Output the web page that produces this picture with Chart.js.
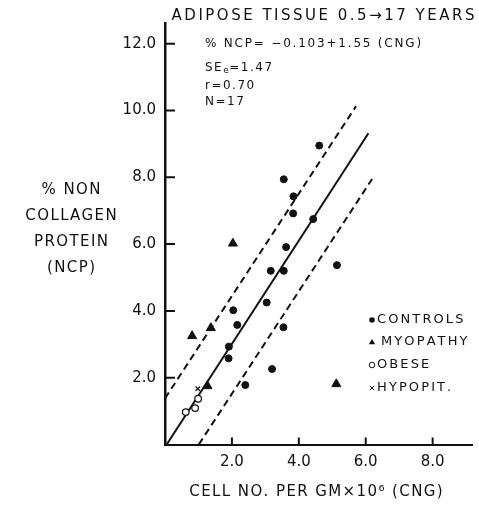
<!DOCTYPE html>
<html>
<head>
<meta charset="utf-8">
<script src="https://cdn.jsdelivr.net/npm/chart.js@4/dist/chart.umd.min.js"></script>
<style>
    html, body { margin: 0; padding: 0; background: #fff; }
</style>
</head>
<body>
<canvas id="chart" width="479" height="506"></canvas>
<script>
'use strict';

// values (x = CNG, y = % NCP)
const controlsX = [4.61, 3.55, 3.84, 3.83, 4.43, 3.62, 3.16, 3.55, 5.14, 2.04, 3.04, 2.16, 3.54, 1.91, 1.90, 3.20, 2.40];
const controlsY = [8.95, 7.94, 7.43, 6.92, 6.75, 5.91, 5.20, 5.20, 5.37, 4.02, 4.25, 3.58, 3.51, 2.93, 2.58, 2.26, 1.78];
const myopathyX = [2.03, 0.81, 1.37, 1.27, 5.12];
const myopathyY = [6.02, 3.25, 3.49, 1.75, 1.81];
const obeseX = [0.62, 0.90, 0.99];
const obeseY = [0.97, 1.09, 1.37];
const hypopitX = [0.98];
const hypopitY = [1.67];

const fitX = [0.05, 6.08];
const fitY = [0.0, 9.32];
const upperX = [0.0, 5.71];
const upperY = [1.38, 10.13];
const lowerX = [1.01, 6.19];
const lowerY = [0.0, 7.95];

const xTickValues = [2, 4, 6, 8];
const xTickLabels = ['2.0', '4.0', '6.0', '8.0'];
const yTickValues = [2, 4, 6, 8, 10, 12];
const yTickLabels = ['2.0', '4.0', '6.0', '8.0', '10.0', '12.0'];

const title = 'ADIPOSE TISSUE 0.5\u219217 YEARS';
const xTitle = 'CELL NO. PER GM\u00d710\u2076 (CNG)';
const yTitle = ['% NON', 'COLLAGEN', 'PROTEIN', '(NCP)'];
const legendLabels = ['CONTROLS', 'MYOPATHY', 'OBESE', 'HYPOPIT.'];

const FONT = '"DejaVu Sans", sans-serif';
const INK = '#111';

const pts = (xs, ys) => xs.map((x, i) => ({x, y: ys[i]}));

// canvas letterSpacing is not everywhere yet, so space the glyphs by hand
function spacedText(ctx, text, x, y, spacing, align) {
    const chars = [...text];
    const widths = chars.map(c => ctx.measureText(c).width);
    const total = widths.reduce((a, b) => a + b, 0) + spacing * (chars.length - 1);
    let cx = align === 'center' ? x - total / 2 : (align === 'right' ? x - total : x);
    ctx.textAlign = 'left';
    chars.forEach((c, i) => {
        ctx.fillText(c, cx, y);
        cx += widths[i] + spacing;
    });
    return cx;
}

function marker(ctx, kind, x, y, r) {
    ctx.beginPath();
    if (kind === 'dot') {
        ctx.arc(x, y, r, 0, Math.PI * 2);
        ctx.fill();
    } else if (kind === 'tri') {
        ctx.moveTo(x, y - r * 1.1);
        ctx.lineTo(x + r * 1.15, y + r * 0.8);
        ctx.lineTo(x - r * 1.15, y + r * 0.8);
        ctx.closePath();
        ctx.fill();
    } else if (kind === 'ring') {
        ctx.arc(x, y, r, 0, Math.PI * 2);
        ctx.stroke();
    } else {
        ctx.moveTo(x - r, y - r);
        ctx.lineTo(x + r, y + r);
        ctx.moveTo(x + r, y - r);
        ctx.lineTo(x - r, y + r);
        ctx.stroke();
    }
}

const decorations = {
    id: 'decorations',
    afterDraw(chart) {
        const {ctx, chartArea: area, scales} = chart;
        ctx.save();
        ctx.strokeStyle = INK;
        ctx.fillStyle = INK;

        // inward tick marks
        ctx.lineWidth = 2;
        ctx.beginPath();
        for (const t of scales.y.ticks) {
            const py = scales.y.getPixelForValue(t.value);
            ctx.moveTo(area.left, py);
            ctx.lineTo(area.left + 10, py);
        }
        for (const t of scales.x.ticks) {
            const px = scales.x.getPixelForValue(t.value);
            ctx.moveTo(px, area.bottom);
            ctx.lineTo(px, area.bottom - 7);
        }
        ctx.stroke();

        ctx.textBaseline = 'middle';
        ctx.font = `15px ${FONT}`;
        spacedText(ctx, title, 323, 16, 2.5, 'center');
        spacedText(ctx, xTitle, 316, 492, 1.4, 'center');
        yTitle.forEach((line, i) => {
            spacedText(ctx, line, 71, 190 + i * 26, 1.4, 'center');
        });

        // regression annotation
        ctx.font = `12px ${FONT}`;
        spacedText(ctx, '% NCP= \u22120.103+1.55 (CNG)', 205, 44, 1.8, 'left');
        let ex = spacedText(ctx, 'SE', 205, 68, 1.5, 'left');
        ctx.font = `9px ${FONT}`;
        ex = spacedText(ctx, 'e', ex, 71, 0, 'left');
        ctx.font = `12px ${FONT}`;
        spacedText(ctx, '=1.47', ex + 0.5, 68, 1.5, 'left');
        spacedText(ctx, 'r=0.70', 205, 86, 1.5, 'left');
        spacedText(ctx, 'N=17', 205, 102, 1.5, 'left');

        // legend
        const kinds = ['dot', 'tri', 'ring', 'cross'];
        const rows = [320, 342, 365, 388];
        ctx.font = `13px ${FONT}`;
        ctx.lineWidth = 1;
        legendLabels.forEach((label, i) => {
            marker(ctx, kinds[i], 372, rows[i], kinds[i] === 'cross' ? 2.2 : 2.8);
            spacedText(ctx, label, i === 1 ? 381 : 377, rows[i], 2.1, 'left');
        });
        ctx.restore();
    }
};

const pointStyle = {showLine: false, borderColor: INK, backgroundColor: INK};
const lineStyle = {showLine: true, pointRadius: 0, pointHoverRadius: 0, borderColor: INK, borderWidth: 2};

new Chart(document.getElementById('chart'), {
    type: 'scatter',
    data: {
        datasets: [
            {...pointStyle, label: 'Controls', data: pts(controlsX, controlsY), pointStyle: 'circle', pointRadius: 3.5},
            {...pointStyle, label: 'Myopathy', data: pts(myopathyX, myopathyY), pointStyle: 'triangle', pointRadius: 5.2},
            {...pointStyle, label: 'Obese', data: pts(obeseX, obeseY), pointStyle: 'circle', pointRadius: 3.3,
                backgroundColor: '#fff', borderWidth: 1.2},
            {...pointStyle, label: 'Hypopit.', data: pts(hypopitX, hypopitY), pointStyle: 'crossRot', pointRadius: 3.2,
                borderWidth: 1.2},
            {...lineStyle, label: 'fit', data: pts(fitX, fitY)},
            {...lineStyle, label: 'upper', data: pts(upperX, upperY), borderDash: [7, 4.5]},
            {...lineStyle, label: 'lower', data: pts(lowerX, lowerY), borderDash: [7, 4.5]},
        ]
    },
    options: {
        responsive: false,
        animation: false,
        events: [],
        layout: {padding: {left: 0, right: 1, top: 23, bottom: 0}},
        plugins: {legend: {display: false}, tooltip: {enabled: false}},
        scales: {
            x: {
                type: 'linear',
                min: 0,
                max: 9.2,
                afterFit: s => { s.height = 61.5; },
                afterBuildTicks: s => { s.ticks = xTickValues.map(value => ({value})); },
                grid: {display: false, drawTicks: false},
                border: {display: true, color: INK, width: 2},
                ticks: {
                    padding: 9,
                    color: INK,
                    font: {family: FONT, size: 15},
                    maxRotation: 0,
                    callback: (v, i) => xTickLabels[i]
                }
            },
            y: {
                type: 'linear',
                min: 0,
                max: 12.62,
                afterFit: s => { s.width = 165; },
                afterBuildTicks: s => { s.ticks = yTickValues.map(value => ({value})); },
                grid: {display: false, drawTicks: false},
                border: {display: true, color: INK, width: 2.5},
                ticks: {
                    padding: 9,
                    color: INK,
                    font: {family: FONT, size: 15},
                    callback: (v, i) => yTickLabels[i]
                }
            }
        }
    },
    plugins: [decorations]
});
</script>
</body>
</html>
